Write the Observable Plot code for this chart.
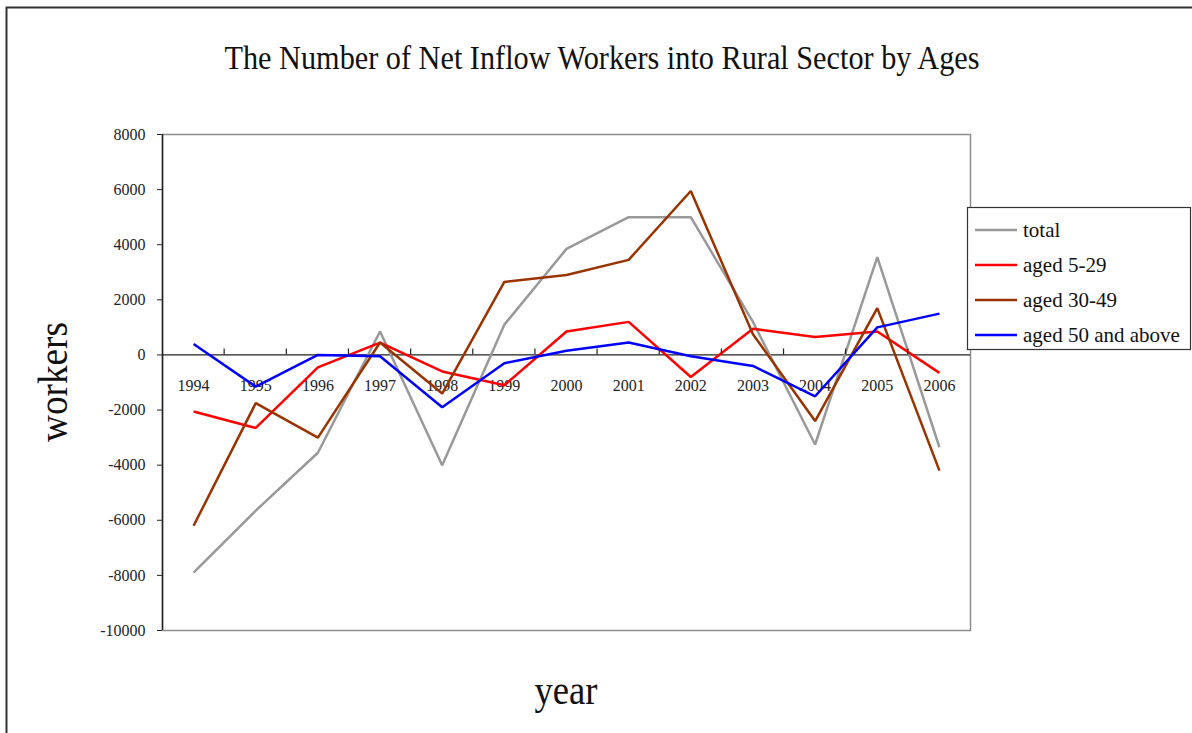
<!DOCTYPE html>
<html>
<head>
<meta charset="utf-8">
<script src="https://cdn.jsdelivr.net/npm/d3@7"></script>
<script src="https://cdn.jsdelivr.net/npm/@observablehq/plot@0.6"></script>
<style>
  html, body { margin: 0; padding: 0; background: #fff; }
  #chart svg { display: block; }
  #chart svg text { font-family: 'Liberation Serif', 'DejaVu Serif', serif !important; }
</style>
</head>
<body>
<div id="chart"></div>
<script>
// Net inflow of workers into the rural sector, by age group
const years = [1994, 1995, 1996, 1997, 1998, 1999, 2000, 2001, 2002, 2003, 2004, 2005, 2006];
const total      = [-7900, -5650, -3550,  850, -4000, 1100, 3850, 5000, 5000, 1200, -3250, 3550, -3350];
const aged5to29  = [-2050, -2650,  -450,  450,  -600, -1100,  850, 1200, -800,  950,   650,  850,  -650];
const aged30to49 = [-6200, -1750, -3000,  450, -1400, 2650, 2900, 3450, 5950,  750, -2400, 1700, -4200];
const aged50up   = [  400, -1150,     0,  -50, -1900, -300,  150,  450,  -50, -400, -1500, 1000,  1500];

const seriesNames = ["total", "aged 5-29", "aged 30-49", "aged 50 and above"];
const seriesValues = [total, aged5to29, aged30to49, aged50up];
const seriesColors = ["#999999", "#ff0000", "#993300", "#0000ff"];
const yTicks = [-10000, -8000, -6000, -4000, -2000, 0, 2000, 4000, 6000, 8000];

const rows = seriesNames.flatMap((name, s) =>
  years.map((year, i) => ({series: name, year, value: seriesValues[s][i]}))
);

const W = 1192, H = 733;
const serif = "'Liberation Serif', 'DejaVu Serif', serif";

const chart = Plot.plot({
  width: W,
  height: H,
  marginLeft: 162,
  marginRight: 222,
  marginTop: 134,
  marginBottom: 103,
  style: {fontFamily: serif, fontSize: "16px", color: "#222", background: "#fff"},
  x: {domain: [years[0] - 0.5, years[years.length - 1] + 0.5], axis: null},
  y: {
    domain: [yTicks[0], yTicks[yTicks.length - 1]],
    ticks: yTicks,
    tickFormat: d => String(d),
    tickSize: 5,
    tickPadding: 12,
    label: null
  },
  color: {domain: seriesNames, range: seriesColors},
  marks: [
    Plot.frame({stroke: "#8c8c8c", strokeWidth: 1.5}),
    Plot.ruleY([0], {stroke: "#222", strokeWidth: 1.2}),
    Plot.ruleX([years[0] - 0.5], {stroke: "#222", strokeWidth: 1.5}),
    Plot.text(years, {x: d => d, y: 0, text: d => String(d), dy: 31, fontSize: 16, fill: "#222"}),
    Plot.line(rows, {x: "year", y: "value", z: "series", stroke: "series", strokeWidth: 2.5, strokeLinejoin: "miter", strokeLinecap: "butt"})
  ]
});

const svg = d3.select(chart);
const xs = chart.scale("x");
const ys = chart.scale("y");

// small ticks on the zero line between year categories
const bounds = years.slice(1).map(y => y - 0.5);
svg.append("g")
  .attr("stroke", "#222")
  .attr("stroke-width", 1.2)
  .selectAll("line")
  .data(bounds)
  .join("line")
  .attr("x1", d => xs.apply(d))
  .attr("x2", d => xs.apply(d))
  .attr("y1", ys.apply(0))
  .attr("y2", ys.apply(0) - 6);

// outer frame
svg.append("rect")
  .attr("x", 6.5).attr("y", 7.5)
  .attr("width", W + 20).attr("height", H + 20)
  .attr("fill", "none")
  .attr("stroke", "#333")
  .attr("stroke-width", 2);

// title
svg.append("text")
  .attr("x", 602).attr("y", 69)
  .attr("text-anchor", "middle")
  .attr("font-size", 34)
  .attr("fill", "#111")
  .attr("textLength", 755)
  .attr("lengthAdjust", "spacingAndGlyphs")
  .text("The Number of Net Inflow Workers into Rural Sector by Ages");

// axis titles
svg.append("text")
  .attr("transform", "translate(67,382) rotate(-90)")
  .attr("text-anchor", "middle")
  .attr("font-size", 42)
  .attr("fill", "#111")
  .attr("textLength", 120)
  .attr("lengthAdjust", "spacingAndGlyphs")
  .text("workers");

svg.append("text")
  .attr("x", 566).attr("y", 704)
  .attr("text-anchor", "middle")
  .attr("font-size", 42)
  .attr("fill", "#111")
  .attr("textLength", 63)
  .attr("lengthAdjust", "spacingAndGlyphs")
  .text("year");

// legend
const legend = svg.append("g").attr("transform", "translate(967,207)");
legend.append("rect")
  .attr("x", 0.5).attr("y", 0.5)
  .attr("width", 223).attr("height", 142)
  .attr("fill", "#fff")
  .attr("stroke", "#333")
  .attr("stroke-width", 1.2);
const item = legend.selectAll("g.item")
  .data(seriesNames)
  .join("g")
  .attr("class", "item")
  .attr("transform", (d, i) => `translate(0,${23 + i * 35})`);
item.append("line")
  .attr("x1", 8).attr("x2", 50)
  .attr("stroke", (d, i) => seriesColors[i])
  .attr("stroke-width", 2.5);
item.append("text")
  .attr("x", 56).attr("y", 0)
  .attr("dy", "0.35em")
  .attr("text-anchor", "start")
  .attr("font-size", 21)
  .attr("fill", "#111")
  .text(d => d);

document.getElementById("chart").appendChild(chart);
</script>
</body>
</html>
